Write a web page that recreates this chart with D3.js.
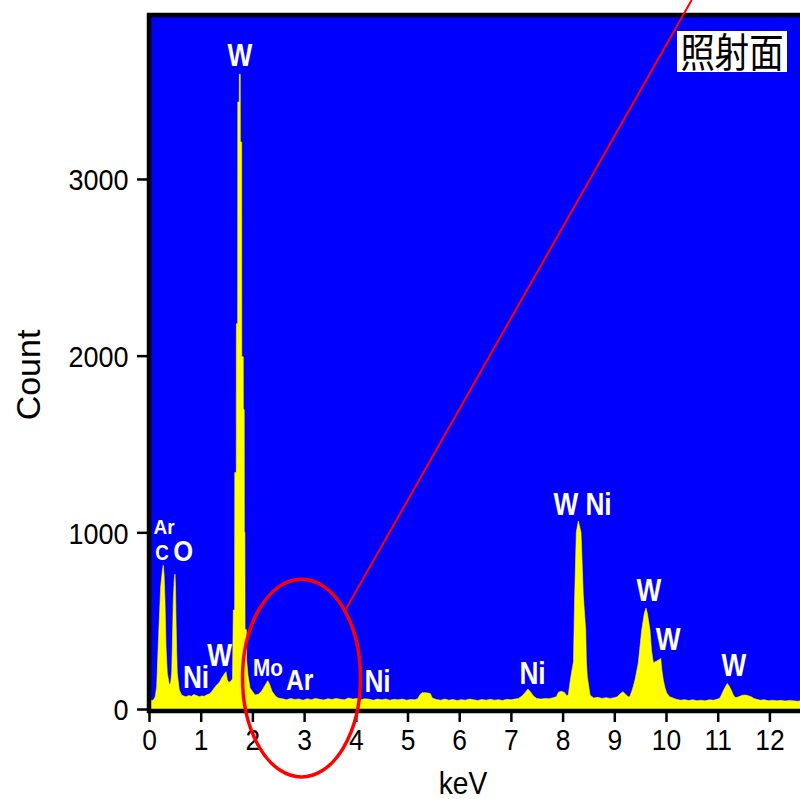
<!DOCTYPE html>
<html>
<head>
<meta charset="utf-8">
<script src="https://cdn.jsdelivr.net/npm/d3@7"></script>
<style>
  html, body { margin: 0; padding: 0; background: #fff; overflow: hidden; }
  svg { display: block; }
</style>
</head>
<body>
<svg id="chart" width="800" height="799"></svg>
<script>
// EDS spectrum: energy (keV) and counts per channel
const energy = [
  0.02, 0.05, 0.09, 0.12, 0.149, 0.18, 0.226, 0.261, 0.277, 0.292, 0.309, 0.329, 0.354, 0.393, 0.42, 0.439,
  0.455, 0.47, 0.49, 0.503, 0.512, 0.522, 0.535, 0.547, 0.586, 0.632, 0.68, 0.72, 0.77, 0.82, 0.87, 0.92,
  0.97, 1.02, 1.07, 1.12, 1.17, 1.213, 1.26, 1.309, 1.36, 1.406, 1.45, 1.489, 1.515, 1.545, 1.585, 1.615,
  1.631, 1.657, 1.659, 1.688, 1.690, 1.715, 1.717, 1.746, 1.748, 1.765, 1.767, 1.792, 1.794, 1.823, 1.825,
  1.842, 1.844, 1.855, 1.858, 1.884, 1.887, 1.915, 1.954, 2.0, 2.05, 2.12, 2.18, 2.24, 2.296, 2.33, 2.38,
  2.45, 2.5, 2.58, 2.66, 2.74, 2.82, 2.9, 2.98, 3.06, 3.14, 3.22, 3.3, 3.38, 3.46, 3.54, 3.62, 3.7, 3.78,
  3.86, 3.94, 4.02, 4.1, 4.18, 4.26, 4.34, 4.42, 4.5, 4.58, 4.66, 4.74, 4.82, 4.9, 4.98, 5.06, 5.14, 5.2,
  5.24, 5.28, 5.36, 5.44, 5.48, 5.56, 5.64, 5.72, 5.8, 5.88, 5.96, 6.04, 6.12, 6.2, 6.28, 6.36, 6.44, 6.52,
  6.6, 6.68, 6.76, 6.84, 6.92, 7.0, 7.08, 7.15, 7.22, 7.28, 7.33, 7.38, 7.44, 7.5, 7.58, 7.66, 7.74, 7.82,
  7.88, 7.92, 7.98, 8.04, 8.08, 8.11, 8.16, 8.21, 8.234, 8.265, 8.304, 8.356, 8.400, 8.447, 8.46, 8.478,
  8.53, 8.6, 8.68, 8.76, 8.84, 8.92, 9.0, 9.06, 9.12, 9.17, 9.22, 9.27, 9.30, 9.35, 9.40, 9.464, 9.53, 9.58,
  9.613, 9.64, 9.691, 9.72, 9.755, 9.826, 9.87, 9.898, 9.92, 9.948, 9.98, 10.014, 10.07, 10.135, 10.2,
  10.28, 10.36, 10.44, 10.52, 10.6, 10.68, 10.76, 10.84, 10.92, 11.0, 11.044, 11.08, 11.12, 11.186, 11.22,
  11.257, 11.3, 11.335, 11.38, 11.43, 11.48, 11.528, 11.58, 11.644, 11.7, 11.754, 11.82, 11.9, 11.98, 12.06,
  12.14, 12.22, 12.3, 12.38, 12.46, 12.54, 12.62, 12.7, 12.8
];
const counts = [
  60, 46, 52, 70, 126, 373, 691, 790, 814, 760, 616, 352, 203, 136, 150, 203,
  400, 616, 740, 763, 700, 521, 330, 203, 107, 79, 72, 70, 76, 72, 82, 76,
  70, 74, 72, 80, 86, 98, 118, 136, 150, 175, 195, 211, 164, 150, 158, 170,
  560, 560, 1339, 1339, 2181, 2181, 3435, 3435, 3593, 3593, 3209, 3209, 1994, 1994, 1695,
  1695, 1000, 1000, 450, 450, 280, 190, 119, 100, 79, 84, 102, 132, 160, 142, 100,
  72, 62, 58, 52, 60, 54, 57, 50, 58, 53, 60, 55, 51, 58, 54, 60, 55, 52,
  62, 56, 60, 53, 58, 55, 50, 56, 52, 57, 50, 55, 52, 56, 50, 54, 52, 58,
  80, 92, 92, 88, 62, 54, 50, 56, 50, 54, 48, 53, 50, 56, 52, 48, 54, 50,
  55, 50, 53, 48, 55, 52, 56, 60, 75, 95, 113, 96, 72, 60, 56, 60, 58, 64,
  70, 95, 100, 92, 75, 79, 183, 267, 644, 1000, 1064, 1000, 644, 446, 267, 183,
  79, 62, 66, 60, 64, 60, 64, 70, 88, 98, 82, 70, 70, 110, 164, 260, 446, 540,
  572, 540, 446, 330, 262, 272, 280, 286, 220, 164, 120, 90, 70, 62, 55,
  50, 53, 48, 52, 47, 50, 46, 52, 50, 56, 62, 85, 110, 145, 130,
  110, 80, 65, 66, 72, 78, 79, 76, 70, 60, 55, 50, 52, 47, 50,
  46, 49, 45, 48, 46, 44, 47, 45, 46
];

// Axis ticks
const xTicks = [0, 1, 2, 3, 4, 5, 6, 7, 8, 9, 10, 11, 12];
const yTicks = [0, 1000, 2000, 3000];

// Element labels placed above their peaks (energy keV, count)
const peakNames  = ["W", "Ar", "C", "O", "Ni", "W", "Mo", "Ar", "Ni", "Ni", "W Ni", "W", "W", "W"];
const peakEnergy = [1.760, 0.290, 0.251, 0.663, 0.909, 1.364, 2.302, 2.915, 4.420, 7.418, 8.385, 9.671, 10.039, 11.315];
const peakCount  = [3640, 991, 843, 835, 119, 243, 187, 108, 98, 142, 1098, 613, 334, 187];
const peakFont   = [32, 20, 22, 30, 32, 32, 23, 29, 32, 32, 32, 32, 32, 32];
const peakSquash = [0.82, 0.95, 0.85, 0.85, 0.82, 0.82, 0.9, 0.85, 0.82, 0.82, 0.82, 0.82, 0.82, 0.82];

// Highlighted region (ellipse) and its call-out line, in data units
const focus = { keV: 2.95, count: 175, rKeV: 1.141, rCount: 560 };
const callout = { from: [3.81, 566], to: [10.497, 4013] };

const svg = d3.select("#chart");
const pxPerKeV = 51.7;
const x = d3.scaleLinear().domain([0, 12.8]).range([149, 149 + 12.8 * pxPerKeV]);
const y = d3.scaleLinear().domain([0, 3928]).range([709, 15]);

const FONT = "'Liberation Sans', Arial, Helvetica, sans-serif";

// Plot background
svg.append("rect")
  .attr("x", x(0)).attr("y", y(3928))
  .attr("width", x(12.8) - x(0)).attr("height", y(0) + 2 - y(3928))
  .attr("fill", "#0000ff");

svg.append("clipPath").attr("id", "plotClip")
  .append("rect")
  .attr("x", x(0)).attr("y", y(3928))
  .attr("width", x(12.8) - x(0)).attr("height", y(0) - y(3928) + 2);

const spectrum = energy.map((e, i) => [e, counts[i]]);
const area = d3.area()
  .x(d => x(d[0]))
  .y0(y(0) + 2)
  .y1(d => y(d[1]))
  .curve(d3.curveLinear);

svg.append("path")
  .datum(spectrum)
  .attr("clip-path", "url(#plotClip)")
  .attr("fill", "#ffff00")
  .attr("stroke", "#ffff00")
  .attr("stroke-width", 0.6)
  .attr("d", area);

// Peak labels
const lab = svg.append("g").attr("font-family", FONT).attr("font-weight", "bold")
  .attr("fill", "#ffffff").attr("text-anchor", "middle");
peakNames.forEach((name, i) => {
  lab.append("text")
    .attr("transform", `translate(${x(peakEnergy[i])},${y(peakCount[i])}) scale(${peakSquash[i]},1)`)
    .attr("font-size", peakFont[i])
    .attr("xml:space", "preserve")
    .text(name);
});

// Frame lines
const frame = svg.append("g").attr("stroke", "#000").attr("stroke-width", 4.5);
frame.append("line").attr("x1", x(0)).attr("x2", x(0)).attr("y1", y(3928) - 2).attr("y2", y(0) + 4);
frame.append("line").attr("x1", x(0) - 2).attr("x2", x(12.8)).attr("y1", y(0) + 2).attr("y2", y(0) + 2);
frame.append("line").attr("x1", x(0) - 2).attr("x2", x(12.8)).attr("y1", y(3928)).attr("y2", y(3928));

// Y axis
const yAxis = svg.append("g")
  .attr("transform", `translate(${x(0) - 2},0)`)
  .call(d3.axisLeft(y).tickValues(yTicks).tickSize(10).tickFormat(d3.format("d")));
yAxis.select(".domain").remove();
yAxis.selectAll(".tick line").attr("stroke", "#000").attr("stroke-width", 2.5);
yAxis.selectAll(".tick text")
  .attr("font-family", FONT).attr("font-size", 30).attr("fill", "#000")
  .attr("x", -18.5 / 0.9).attr("dy", "0.36em")
  .attr("transform", "scale(0.9,1)");

// X axis
const xAxis = svg.append("g")
  .attr("transform", `translate(0,${y(0) + 3})`)
  .call(d3.axisBottom(x).tickValues(xTicks).tickSize(10).tickFormat(d3.format("d")));
xAxis.select(".domain").remove();
xAxis.selectAll(".tick line").attr("stroke", "#000").attr("stroke-width", 2.5);
xAxis.selectAll(".tick text")
  .attr("font-family", FONT).attr("font-size", 30).attr("fill", "#000")
  .attr("y", 38).attr("dy", 0)
  .attr("transform", "scale(0.88,1)");

// Axis titles
svg.append("text")
  .attr("transform", `translate(463,794) scale(0.88,1)`)
  .attr("font-family", FONT).attr("font-size", 32).attr("text-anchor", "middle")
  .attr("fill", "#000").text("keV");
svg.append("text")
  .attr("transform", `translate(40,375) rotate(-90)`)
  .attr("font-family", FONT).attr("font-size", 34).attr("text-anchor", "middle")
  .attr("fill", "#000").text("Count");

// Sample-side tag
const tag = svg.append("g");
tag.append("rect").attr("x", 677).attr("y", 31).attr("width", 110).attr("height", 41)
  .attr("fill", "#fff");
tag.append("text")
  .attr("transform", "translate(732,67) scale(0.86,1)")
  .attr("font-family", "'Noto Sans CJK JP', 'Noto Sans CJK SC', sans-serif")
  .attr("font-size", 40).attr("text-anchor", "middle").attr("fill", "#000")
  .text("照射面");

// Highlighted region and call-out line
svg.append("line")
  .attr("x1", x(callout.from[0])).attr("y1", y(callout.from[1]))
  .attr("x2", x(callout.to[0])).attr("y2", y(callout.to[1]))
  .attr("stroke", "#ff0000").attr("stroke-width", 2);
svg.append("ellipse")
  .attr("cx", x(focus.keV)).attr("cy", y(focus.count))
  .attr("rx", x(focus.rKeV) - x(0)).attr("ry", y(0) - y(focus.rCount))
  .attr("fill", "none").attr("stroke", "#ff0000").attr("stroke-width", 3.5);
</script>
</body>
</html>
